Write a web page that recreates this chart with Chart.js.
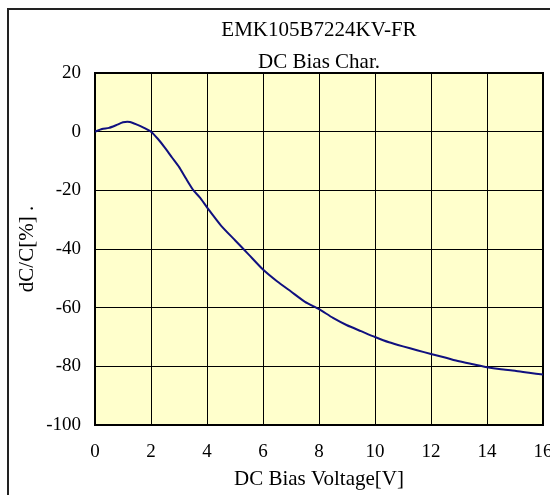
<!DOCTYPE html>
<html>
<head>
<meta charset="utf-8">
<title>EMK105B7224KV-FR DC Bias Char.</title>
<script src="https://cdn.jsdelivr.net/npm/chart.js@4"></script>
<style>
  html, body { margin: 0; padding: 0; background: #fff; }
  canvas { display: block; }
</style>
</head>
<body>
<canvas id="grafico" width="550" height="495"></canvas>
<script>
// Dados
const tituloLinhas = ['EMK105B7224KV-FR', 'DC Bias Char.'];
const tensoes = [0, 0.25, 0.5, 0.75, 1, 1.25, 1.5, 1.75, 2, 2.25, 2.5, 2.75, 3, 3.25, 3.5, 3.75,
  4, 4.5, 5, 5.5, 6, 6.5, 7, 7.5, 8, 8.5, 9, 9.5, 10, 10.5, 11, 11.5, 12, 12.5, 13, 13.5, 14, 14.5, 15, 15.5, 16];
const variacao = [0, 0.9, 1.3, 2.2, 3.2, 3.3, 2.4, 1.3, 0, -2.5, -5.5, -8.8, -12, -16, -19.8, -22.5,
  -25.8, -32, -37, -42, -47, -51, -54.5, -58, -60.5, -63.5, -66, -68, -70, -71.8, -73.2, -74.5, -75.8, -77, -78.3, -79.3, -80.3, -81, -81.5, -82.2, -82.8];
const ticksX = { min: 0, max: 16, passo: 2 };
const ticksY = { min: -100, max: 20, passo: 20 };

const fonte = "'Liberation Serif', 'Times New Roman', serif";

// Fundo amarelo, moldura e títulos
const moldura = {
  id: 'moldura',
  beforeDraw(chart) {
    const { ctx, chartArea: a } = chart;
    ctx.save();
    ctx.fillStyle = '#fff';
    ctx.fillRect(0, 0, chart.width, chart.height);
    ctx.strokeStyle = '#222';
    ctx.lineWidth = 2;
    ctx.strokeRect(8, 9, 700, 700);
    ctx.fillStyle = '#ffffcc';
    ctx.fillRect(a.left, a.top, a.right - a.left, a.bottom - a.top);
    ctx.fillStyle = '#000';
    ctx.font = '21px ' + fonte;
    ctx.textAlign = 'center';
    ctx.textBaseline = 'middle';
    const cx = (a.left + a.right) / 2;
    ctx.fillText(tituloLinhas[0], cx, 30);
    ctx.fillText(tituloLinhas[1], cx, 62);
    ctx.restore();
  },
  beforeDatasetsDraw(chart) {
    const { ctx, chartArea: a } = chart;
    ctx.save();
    ctx.strokeStyle = '#000';
    ctx.lineWidth = 2;
    ctx.strokeRect(a.left, a.top, a.right - a.left, a.bottom - a.top);
    ctx.restore();
  }
};

new Chart(document.getElementById('grafico'), {
  type: 'line',
  data: {
    datasets: [{
      data: tensoes.map((v, i) => ({ x: v, y: variacao[i] })),
      borderColor: '#10107f',
      borderWidth: 2,
      pointRadius: 0,
      tension: 0.2,
      fill: false
    }]
  },
  options: {
    responsive: false,
    animation: false,
    devicePixelRatio: 1,
    layout: { padding: { top: 73, left: 15, right: 7, bottom: 0 } },
    plugins: { legend: { display: false }, tooltip: { enabled: false } },
    scales: {
      x: {
        type: 'linear',
        min: ticksX.min, max: ticksX.max,
        grid: { color: '#000', lineWidth: 1, drawTicks: false },
        border: { display: false },
        ticks: { stepSize: ticksX.passo, padding: 16, color: '#000', font: { family: fonte, size: 19 }, maxRotation: 0 },
        title: { display: true, text: 'DC Bias Voltage[V]', color: '#000', font: { family: fonte, size: 21 }, padding: { top: 0, bottom: 3 } },
        afterFit(s) { s.height = 70; s.paddingLeft = 0; s.paddingRight = 0; }
      },
      y: {
        min: ticksY.min, max: ticksY.max,
        grid: { color: '#000', lineWidth: 1, drawTicks: false },
        border: { display: false },
        ticks: { stepSize: ticksY.passo, padding: 14, color: '#000', font: { family: fonte, size: 19 } },
        title: { display: true, text: 'dC/C[%] .', color: '#000', font: { family: fonte, size: 21 }, padding: { top: 0, bottom: 0 } },
        afterFit(s) { s.width = 80; s.paddingTop = 0; s.paddingBottom = 0; }
      }
    }
  },
  plugins: [moldura]
});
</script>
</body>
</html>
